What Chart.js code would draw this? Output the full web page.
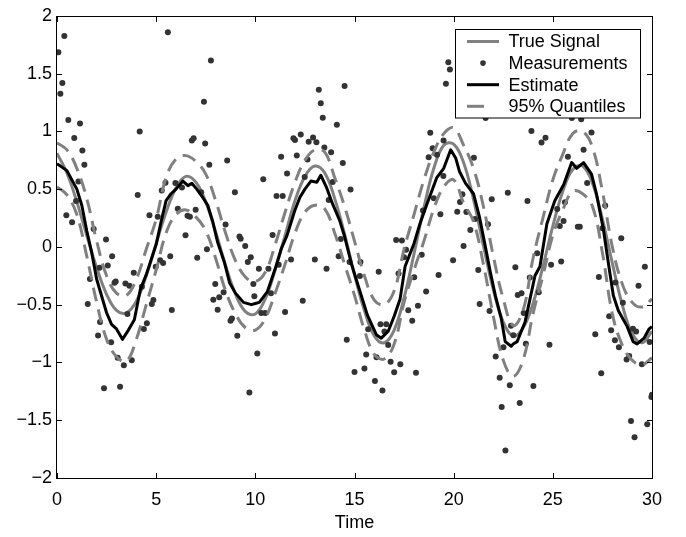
<!DOCTYPE html>
<html><head><meta charset="utf-8">
<script src="https://cdn.jsdelivr.net/npm/chart.js@4/dist/chart.umd.min.js"></script>
<style>html,body{margin:0;padding:0;background:#fff;}#wrap{width:686px;height:537px;}</style>
</head><body><div id="wrap"><canvas id="c" width="686" height="537"></canvas></div>
<script>
// ---------- data ----------
const xTickValues = [0, 5, 10, 15, 20, 25, 30];
const yTickValues = [-2, -1.5, -1, -0.5, 0, 0.5, 1, 1.5, 2];
const seriesLabels = ['True Signal', 'Measurements', 'Estimate', '95% Quantiles'];

const gridT = [0,0.5,1,1.5,2,2.5,3,3.5,4,4.5,5,5.5,6,6.5,7,7.5,8,8.5,9,9.5,10,10.5,11,11.5,12,12.5,13,13.5,14,14.5,15,15.5,16,16.5,17,17.5,18,18.5,19,19.5,20,20.5,21,21.5,22,22.5,23,23.5,24,24.5,25,25.5,26,26.5,27,27.5,28,28.5,29,29.5,30];
const trueSignal = [0.81,0.64,0.39,0.10,-0.18,-0.41,-0.55,-0.57,-0.47,-0.25,0.03,0.30,0.51,0.61,0.56,0.39,0.13,-0.16,-0.41,-0.56,-0.58,-0.45,-0.20,0.10,0.40,0.61,0.70,0.64,0.42,0.11,-0.24,-0.55,-0.77,-0.83,-0.72,-0.44,-0.06,0.34,0.68,0.88,0.89,0.73,0.41,0.01,-0.37,-0.65,-0.77,-0.70,-0.49,-0.17,0.18,0.48,0.67,0.70,0.55,0.24,-0.14,-0.50,-0.75,-0.83,-0.73];
const upperQ = [0.90,0.84,0.68,0.42,0.05,-0.25,-0.40,-0.42,-0.28,-0.02,0.24,0.60,0.76,0.79,0.74,0.63,0.40,0.12,-0.12,-0.26,-0.30,-0.22,0.02,0.30,0.56,0.75,0.84,0.82,0.60,0.35,0.05,-0.25,-0.46,-0.50,-0.38,-0.02,0.28,0.58,0.82,0.98,1.03,0.88,0.68,0.35,-0.08,-0.45,-0.68,-0.55,-0.10,0.25,0.58,0.80,0.98,1.00,0.86,0.48,0.00,-0.32,-0.48,-0.52,-0.45];
const lowerQ = [0.52,0.45,0.28,-0.08,-0.48,-0.80,-0.95,-0.99,-0.80,-0.50,-0.20,0.12,0.28,0.32,0.26,0.14,-0.10,-0.38,-0.58,-0.70,-0.72,-0.62,-0.40,-0.15,0.12,0.30,0.36,0.33,0.12,-0.15,-0.42,-0.72,-0.93,-0.97,-0.84,-0.48,-0.20,0.05,0.33,0.52,0.58,0.38,0.22,-0.15,-0.60,-0.98,-1.12,-0.98,-0.58,-0.25,0.10,0.32,0.48,0.46,0.35,-0.05,-0.58,-0.85,-0.98,-1.02,-0.96];

const estT = [0,0.5,1.0,1.25,1.5,1.75,2.0,2.5,2.75,3.0,3.3,3.6,3.9,4.2,4.5,5.0,5.25,5.5,5.75,6.0,6.35,6.6,6.8,7.0,7.3,7.6,7.85,8.1,8.45,8.7,9.0,9.4,9.8,10.0,10.2,10.6,11.0,11.3,11.6,12.0,12.25,12.5,12.8,13.1,13.3,13.6,13.9,14.25,14.5,14.85,15.25,15.65,16.1,16.35,16.7,17.0,17.3,17.55,18.0,18.3,18.65,19.15,19.5,19.85,20.1,20.3,20.6,21.0,21.3,21.6,21.85,22.1,22.4,22.6,22.9,23.0,23.2,23.6,23.85,24.1,24.35,24.7,25.1,25.55,25.95,26.2,26.55,26.95,27.2,27.55,27.8,28.05,28.3,28.75,29.05,29.25,29.6,29.85,30.0];
const estV = [0.72,0.66,0.50,0.36,0.14,-0.05,-0.28,-0.57,-0.67,-0.71,-0.80,-0.72,-0.63,-0.37,-0.24,0.02,0.22,0.40,0.46,0.50,0.57,0.53,0.55,0.51,0.44,0.36,0.22,0.04,-0.14,-0.31,-0.40,-0.48,-0.50,-0.49,-0.48,-0.39,-0.19,-0.02,0.10,0.32,0.43,0.50,0.57,0.56,0.62,0.51,0.37,0.23,0.09,-0.15,-0.37,-0.59,-0.76,-0.79,-0.73,-0.60,-0.45,-0.17,0.03,0.20,0.37,0.60,0.68,0.84,0.77,0.65,0.55,0.46,0.26,0.0,-0.22,-0.42,-0.62,-0.82,-0.86,-0.84,-0.82,-0.65,-0.45,-0.25,-0.17,0.20,0.40,0.54,0.73,0.68,0.73,0.63,0.46,0.15,-0.14,-0.42,-0.55,-0.69,-0.82,-0.84,-0.79,-0.71,-0.69];

const measT = [0.07,0.37,0.27,0.17,0.57,1.16,0.87,1.28,1.38,1.08,0.96,0.47,0.76,1.85,2.47,5.59,7.76,7.41,4.17,6.80,6.89,7.47,8.58,7.68,4.07,5.47,5.28,5.97,6.30,7.27,8.97,4.66,5.08,6.09,6.58,6.70,6.99,8.50,6.48,9.20,9.26,9.49,7.56,
10.40,11.07,11.38,11.30,11.60,11.92,12.0,12.29,12.09,12.69,12.91,13.08,13.20,13.30,13.40,14.50,14.11,13.48,13.82,12.63,14.41,14.80,12.49,13.90,13.70,10.87,14.31,17.10,17.39,19.73,19.81,19.61,18.82,19.49,18.94,18.74,19.16,19.48,19.00,19.33,18.45,
21.61,23.92,24.63,24.43,26.95,25.96,26.43,26.55,21.02,25.76,26.73,22.73,21.92,23.72,20.44,20.32,20.18,20.64,21.08,20.84,21.73,25.61,25.22,25.54,25.35,26.26,26.36,27.64,27.5,28.45,20.5,
9.62,9.77,10.18,10.66,11.80,13.0,13.59,14.2,14.75,15.3,16.22,19.97,17.5,17.6,18.39,
1.55,1.66,2.14,2.56,2.78,2.90,2.96,3.45,3.65,3.87,3.55,2.17,2.07,2.73,3.06,3.37,3.77,2.37,3.18,4.38,4.53,4.78,4.86,4.28,4.98,5.2,5.35,5.71,5.79,7.07,9.9,7.98,7.88,8.18,8.4,8.10,8.75,8.82,9.09,9.7,9.95,
10.3,10.5,10.79,10.99,10.10,11.18,11.5,12.39,15.27,14.61,15.69,16.31,16.6,16.51,16.70,15.59,16.11,15.0,15.5,16.03,16.41,16.82,17.31,17.0,18.1,17.71,17.91,18.2,18.61,18.01,17.22,19.24,
21.24,23.11,24.91,25.42,24.21,23.84,23.23,23.42,21.31,21.81,24.29,23.53,22.89,23.01,22.51,23.64,24.83,22.12,22.32,22.83,24.02,22.42,23.33,22.61,27.14,27.44,27.32,27.84,27.94,28.13,28.33,28.53,28.72,28.85,29.04,29.2,29.49,29.88,29.64,29.32,28.16,29.97,30.0,28.94,29.12,29.76];
const measV = [1.685,1.826,1.418,1.325,1.098,1.067,0.942,0.835,0.710,0.565,0.398,0.274,0.214,0.154,0.063,1.858,1.614,1.256,0.998,0.92,0.94,0.895,0.747,0.710,0.449,0.556,0.488,0.553,0.514,0.474,0.474,0.274,0.260,0.330,0.27,0.26,0.321,0.194,0.101,0.09,0.07,0.007,-0.02,
0.585,0.44,0.44,0.78,0.635,0.94,0.925,0.973,0.79,0.91,0.947,0.905,1.359,1.243,1.118,1.393,1.058,0.860,0.820,0.757,0.727,0.497,0.604,0.562,0.406,0.103,0.069,0.06,0.055,1.597,1.535,1.413,0.988,0.920,0.854,0.775,0.797,0.614,0.421,0.282,0.316,
1.115,1.002,0.945,0.903,0.99,1.115,1.104,0.84,0.772,0.78,0.553,0.469,0.412,0.398,0.455,0.389,0.304,0.301,0.242,0.146,0.197,0.387,0.327,0.225,0.18,0.175,0.175,0.358,0.161,0.075,0.007,
-0.13,-0.09,-0.19,-0.19,-0.11,-0.11,-0.19,-0.08,-0.13,-0.13,-0.215,-0.115,-0.09,-0.025,-0.067,
-0.495,-0.277,-0.18,-0.16,-0.081,-0.31,-0.30,-0.316,-0.336,-0.223,-0.58,-0.651,-0.767,-0.826,-0.96,-1.025,-0.98,-1.223,-1.21,-0.71,-0.66,-0.495,-0.46,-0.345,-0.172,-0.115,-0.14,-0.081,-0.546,-0.093,-0.32,-0.32,-0.458,-0.436,-0.393,-0.543,-0.64,-0.62,-0.77,-1.26,-0.427,
-0.572,-0.572,-0.401,-0.75,-0.923,-0.155,-0.563,-0.466,-0.251,-0.804,-0.713,-0.67,-0.67,-0.733,-0.849,-0.931,-0.954,-1.082,-1.053,-1.161,-1.243,-0.994,-1.016,-1.085,-1.09,-0.549,-0.64,-0.509,-0.387,-0.263,-0.231,-0.243,
-0.2,-0.177,-0.155,-0.126,-0.056,-0.265,-0.416,-0.401,-0.495,-0.554,-0.393,-0.571,-0.682,-0.764,-0.869,-0.838,-0.846,-0.948,-1.133,-1.198,-1.203,-1.385,-1.351,-1.762,-0.756,-1.093,-0.26,-0.6,-0.722,-0.807,-0.869,-0.484,-0.975,-0.945,-0.708,-0.733,-1.016,-0.823,-0.172,-0.336,-0.308,-1.30,-1.28,-1.507,-1.648,-1.535];

// ---------- helpers ----------
const pts = (xs, ys) => xs.map((x, i) => ({x: x, y: ys[i]}));
const FONT = 'Liberation Sans, Arial, Helvetica, sans-serif';
const GRAY = '#808080';
const DOT = '#333333';
const DASH = [14, 8];
const fmt = v => { const r = Math.round(v * 10) / 10; return String(r).replace('-', '\u2212'); };

const frameAndLegend = {
  id: 'frameAndLegend',
  afterDatasetsDraw(chart) {
    const c = chart.ctx, a = chart.chartArea;
    const xs = chart.scales.x, ys = chart.scales.y;
    c.save();
    c.strokeStyle = '#000'; c.lineWidth = 1; c.setLineDash([]);
    const L = Math.round(a.left) - 0.5, R = Math.round(a.right) + 0.5;
    const T = Math.round(a.top) + 0.5, B = Math.round(a.bottom) + 0.5;
    c.strokeRect(L, T, R - L, B - T);
    const tl = 5.5;
    c.beginPath();
    xTickValues.forEach(v => {
      const p = Math.round(xs.getPixelForValue(v)) + 0.5;
      c.moveTo(p, B); c.lineTo(p, B - tl);
      c.moveTo(p, T); c.lineTo(p, T + tl);
    });
    yTickValues.forEach(v => {
      const p = Math.round(ys.getPixelForValue(v)) + 0.5;
      c.moveTo(L, p); c.lineTo(L + tl, p);
      c.moveTo(R, p); c.lineTo(R - tl, p);
    });
    c.stroke();

    // legend
    const bw = 185, bh = 88.5;
    const bx = Math.round(a.right - 12 - bw) + 0.5, by = Math.round(a.top + 13.5) + 0.5;
    c.fillStyle = '#fff';
    c.fillRect(bx, by, bw, bh);
    c.strokeStyle = '#000'; c.lineWidth = 1;
    c.strokeRect(bx, by, bw, bh);
    const rowY = i => by + 12 + i * 21.6;
    const lx0 = bx + 11.5, lx1 = bx + 43.5, tx = bx + 53;
    c.font = '18px ' + FONT;
    c.textBaseline = 'middle'; c.textAlign = 'left';
    c.lineWidth = 3; c.strokeStyle = GRAY; c.setLineDash([]);
    c.beginPath(); c.moveTo(lx0, rowY(0)); c.lineTo(lx1, rowY(0)); c.stroke();
    c.fillStyle = DOT;
    c.beginPath(); c.arc((lx0 + lx1) / 2, rowY(1), 2.8, 0, Math.PI * 2); c.fill();
    c.strokeStyle = '#000';
    c.beginPath(); c.moveTo(lx0, rowY(2)); c.lineTo(lx1, rowY(2)); c.stroke();
    c.strokeStyle = GRAY; c.setLineDash([17, 15]);
    c.beginPath(); c.moveTo(lx0, rowY(3)); c.lineTo(lx1, rowY(3)); c.stroke();
    c.setLineDash([]);
    c.fillStyle = '#000';
    seriesLabels.forEach((s, i) => c.fillText(s, tx, rowY(i) + 1));
    c.restore();
  }
};

new Chart(document.getElementById('c'), {
  data: {
    datasets: [
      {type: 'line', label: seriesLabels[0], data: pts(gridT, trueSignal), borderColor: GRAY, borderWidth: 3,
       pointRadius: 0, tension: 0.4, order: 4},
      {type: 'scatter', label: seriesLabels[1], data: pts(measT, measV), backgroundColor: DOT, borderColor: DOT,
       borderWidth: 0, pointRadius: 3, order: 3},
      {type: 'line', label: seriesLabels[2], data: pts(estT, estV), borderColor: '#000', borderWidth: 3,
       pointRadius: 0, tension: 0, borderJoinStyle: 'round', order: 2},
      {type: 'line', label: seriesLabels[3], data: pts(gridT, upperQ), borderColor: GRAY, borderWidth: 3,
       borderDash: DASH, pointRadius: 0, tension: 0.4, order: 1},
      {type: 'line', label: seriesLabels[3] + ' (lower)', data: pts(gridT, lowerQ), borderColor: GRAY, borderWidth: 3,
       borderDash: DASH, pointRadius: 0, tension: 0.4, order: 1}
    ]
  },
  options: {
    responsive: false, animation: false, devicePixelRatio: 1,
    layout: {padding: {top: 8, right: 34, bottom: 0, left: 0}},
    plugins: {legend: {display: false}, tooltip: {enabled: false}},
    scales: {
      x: {
        type: 'linear', min: 0, max: 30,
        afterBuildTicks: s => { s.ticks = xTickValues.map(v => ({value: v})); },
        afterFit: s => { s.height = 59; },
        grid: {display: false, drawTicks: false},
        border: {display: false},
        ticks: {color: '#000', font: {family: FONT, size: 18}, padding: 11, maxRotation: 0, callback: v => fmt(v)},
        title: {display: true, text: 'Time', color: '#000', font: {family: FONT, size: 18}, padding: {top: 0, bottom: 3}}
      },
      y: {
        type: 'linear', min: -2, max: 2,
        afterBuildTicks: s => { s.ticks = yTickValues.map(v => ({value: v})); },
        afterFit: s => { s.width = 57; },
        grid: {display: false, drawTicks: false},
        border: {display: false},
        ticks: {color: '#000', font: {family: FONT, size: 18}, padding: 5, callback: v => fmt(v)}
      }
    }
  },
  plugins: [frameAndLegend]
});
</script>
</body></html>
